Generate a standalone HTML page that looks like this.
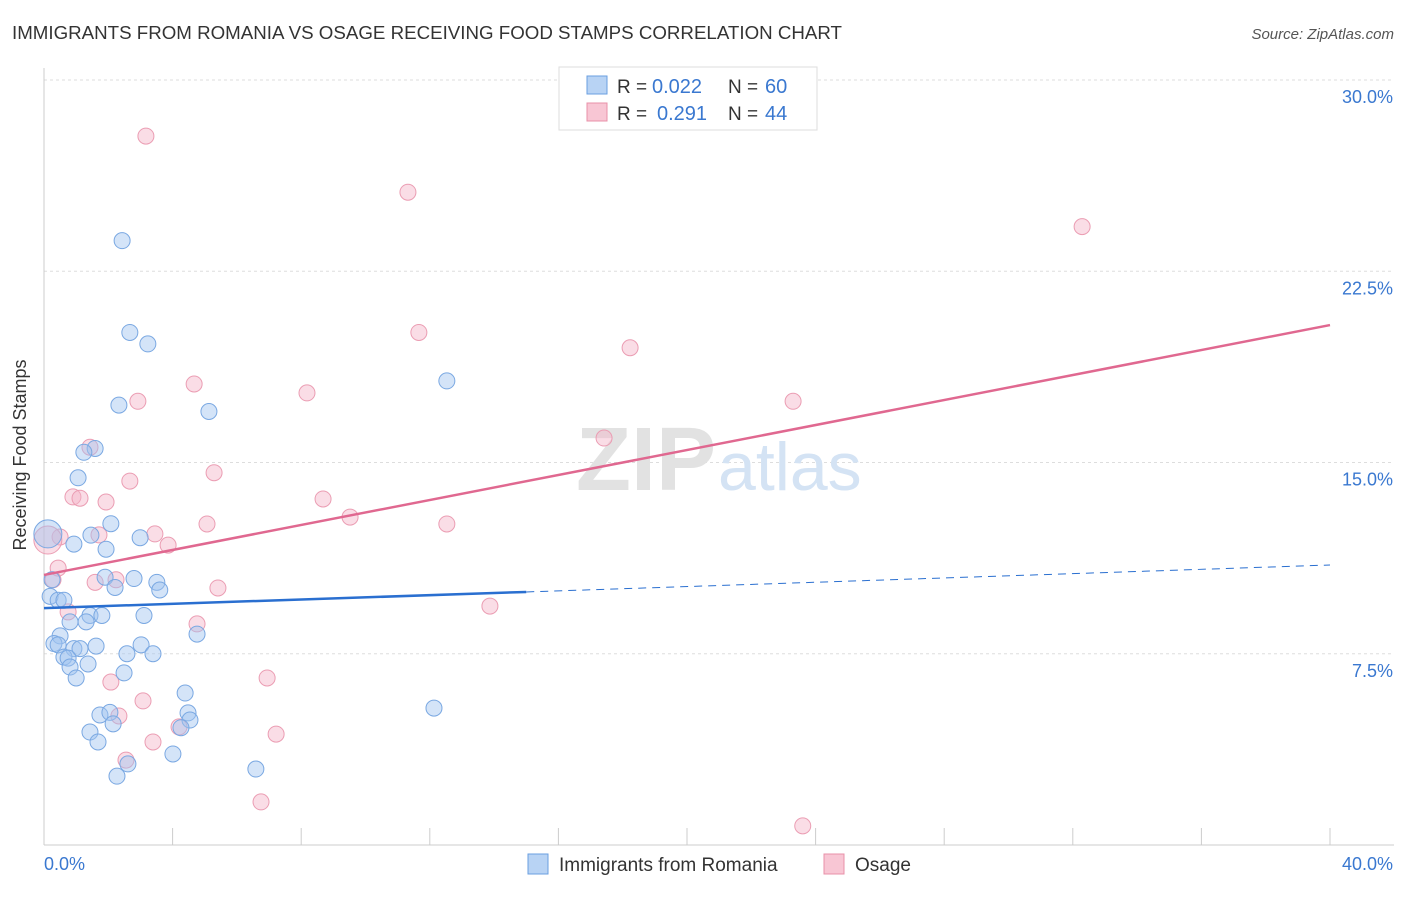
<!DOCTYPE html>
<html><head><meta charset="utf-8">
<style>
body{margin:0;background:#fff;font-family:"Liberation Sans",sans-serif;}
svg text{font-family:"Liberation Sans",sans-serif;}
</style></head>
<body>
<svg width="1406" height="892" viewBox="0 0 1406 892" xmlns="http://www.w3.org/2000/svg">
<text x="12" y="39" font-size="18" fill="#333" textLength="830" lengthAdjust="spacingAndGlyphs">IMMIGRANTS FROM ROMANIA VS OSAGE RECEIVING FOOD STAMPS CORRELATION CHART</text>
<text x="1394" y="39" font-size="15" fill="#555" text-anchor="end" font-style="italic">Source: ZipAtlas.com</text>
<g id="grid"></g>
<g id="axes"></g>
<text x="716" y="490" font-size="90" fill="#e2e2e2" text-anchor="end" font-family="Liberation Serif" font-weight="bold">ZIP</text>
<text x="718" y="490" font-size="68" fill="#d4e3f4">atlas</text>
<g id="pts"></g>
<g id="trends"></g>
<text x="26" y="455" font-size="18" fill="#333" text-anchor="middle" transform="rotate(-90 26 455)">Receiving Food Stamps</text>
<g>
<rect x="559" y="67" width="258" height="63" fill="#fff" stroke="#ddd"/>
<rect x="587" y="76" width="20" height="18" fill="#b8d3f4" stroke="#6a9fe0"/>
<rect x="587" y="103" width="20" height="18" fill="#f8c6d4" stroke="#e890a8"/>
<text x="617" y="93" font-size="19" fill="#333">R =</text>
<text x="652" y="93" font-size="20" fill="#3a78d0">0.022</text>
<text x="728" y="93" font-size="19" fill="#333">N =</text>
<text x="765" y="93" font-size="20" fill="#3a78d0">60</text>
<text x="617" y="120" font-size="19" fill="#333">R =</text>
<text x="657" y="120" font-size="20" fill="#3a78d0">0.291</text>
<text x="728" y="120" font-size="19" fill="#333">N =</text>
<text x="765" y="120" font-size="20" fill="#3a78d0">44</text>
</g>
<g>
<rect x="528" y="854" width="20" height="20" fill="#b8d3f4" stroke="#6a9fe0"/>
<text x="559" y="871" font-size="19" fill="#333">Immigrants from Romania</text>
<rect x="824" y="854" width="20" height="20" fill="#f8c6d4" stroke="#e890a8"/>
<text x="855" y="871" font-size="19" fill="#333">Osage</text>
</g>
<script>
const yTicks=[30,22.5,15,7.5];
const yTickLabels=["30.0%","22.5%","15.0%","7.5%"];
const xTickCount=10;
const blueX=[2.43,2.67,3.23,12.53,2.33,5.13,1.59,1.24,1.06,2.08,1.46,2.99,0.93,1.93,0.25,1.9,2.8,3.51,2.21,3.6,0.19,0.44,0.62,1.43,1.8,3.11,1.31,0.81,4.76,0.5,0.31,0.44,0.93,1.12,1.62,3.02,2.58,3.39,0.62,0.75,1.37,0.81,2.49,1.0,4.39,12.13,1.74,2.05,4.48,4.54,2.15,4.26,1.43,1.68,4.01,2.61,6.59,2.27];
const blueY=[23.7,20.1,19.65,18.2,17.25,17.0,15.55,15.4,14.4,12.6,12.15,12.05,11.8,11.6,10.4,10.5,10.45,10.3,10.1,10.0,9.75,9.6,9.6,9.0,9.0,9.0,8.75,8.75,8.27,8.2,7.9,7.85,7.7,7.7,7.8,7.85,7.5,7.5,7.37,7.33,7.1,6.98,6.75,6.55,5.96,5.37,5.1,5.2,5.18,4.9,4.75,4.6,4.43,4.04,3.57,3.18,2.98,2.7];
const pinkX=[3.17,11.32,32.29,11.66,18.23,4.67,8.18,2.92,23.3,17.42,1.43,5.29,2.67,0.9,1.12,8.68,1.93,9.52,5.07,12.53,0.5,1.71,3.45,3.86,0.44,0.28,1.59,2.24,5.41,0.75,13.87,4.76,6.94,2.08,3.08,2.33,4.2,7.22,3.39,2.55,6.75,23.6];
const pinkY=[27.8,25.6,24.25,20.1,19.5,18.08,17.73,17.4,17.4,15.96,15.6,14.6,14.27,13.65,13.6,13.57,13.45,12.86,12.59,12.59,12.08,12.16,12.2,11.76,10.86,10.4,10.3,10.4,10.08,9.14,9.37,8.67,6.55,6.39,5.65,5.06,4.63,4.35,4.04,3.33,1.69,0.75];
const bigBlue=[0.12,12.2], bigPink=[0.12,11.96];
const blueTrend=[9.29,10.98], pinkTrend=[10.59,20.39], blueSolidEnd=15;
const X0=44,X1=1330,Y0=845,Ymax=30,Ypx=80;
const sx=v=>X0+(X1-X0)*v/40, sy=v=>Y0-(Y0-Ypx)*v/Ymax;
const NS="http://www.w3.org/2000/svg";
function mk(t,a,p){const e=document.createElementNS(NS,t);for(const k in a)e.setAttribute(k,a[k]);p.appendChild(e);return e;}
const grid=document.getElementById('grid'),axes=document.getElementById('axes');
yTicks.forEach((v,i)=>{
 const l=mk('line',{x1:X0,x2:1394,y1:sy(v),y2:sy(v),stroke:'#ddd','stroke-dasharray':'3,3'},grid);
 
 
 const t=mk('text',{x:1393,y:sy(v)+23,'font-size':18,fill:'#3a78d0','text-anchor':'end'},axes);
 t.textContent=yTickLabels[i];
 
 
});
mk('line',{x1:X0,x2:X0,y1:68,y2:Y0,stroke:'#ccc'},axes);
mk('line',{x1:X0,x2:1394,y1:Y0,y2:Y0,stroke:'#ccc'},axes);
for(let i=0;i<=xTickCount;i++){const x=sx(i*40/xTickCount);const l=mk('line',{x1:x,x2:x,y1:828,y2:Y0,stroke:'#ccc'},axes);
 
 }
let t=mk('text',{x:44,y:870,'font-size':18,fill:'#3a78d0'},axes);t.textContent='0.0%';

t=mk('text',{x:1393,y:870,'font-size':18,fill:'#3a78d0','text-anchor':'end'},axes);t.textContent='40.0%';

const pts=document.getElementById('pts');
function dot(x,y,r,blue){const c=mk('circle',{cx:sx(x),cy:sy(y),r:r,fill:blue?'rgba(160,195,240,0.45)':'rgba(245,180,200,0.45)',stroke:blue?'#7aa8e2':'#eb9db3','stroke-width':1},pts);
 
 }
pinkX.forEach((x,i)=>dot(x,pinkY[i],8,false));
blueX.forEach((x,i)=>dot(x,blueY[i],8,true));
dot(bigPink[0],bigPink[1],14,false);
dot(bigBlue[0],bigBlue[1],14,true);
const tr=document.getElementById('trends');
const by=x=>blueTrend[0]+(blueTrend[1]-blueTrend[0])*x/40;
let l=mk('line',{x1:sx(0),y1:sy(by(0)),x2:sx(blueSolidEnd),y2:sy(by(blueSolidEnd)),stroke:'#2a6fd0','stroke-width':2.5},tr);

l=mk('line',{x1:sx(blueSolidEnd),y1:sy(by(blueSolidEnd)),x2:sx(40),y2:sy(by(40)),stroke:'#2a6fd0','stroke-width':1,'stroke-dasharray':'8,6'},tr);

l=mk('line',{x1:sx(0),y1:sy(pinkTrend[0]),x2:sx(40),y2:sy(pinkTrend[1]),stroke:'#e06890','stroke-width':2.5},tr);

</script>
</svg>
</body></html>
